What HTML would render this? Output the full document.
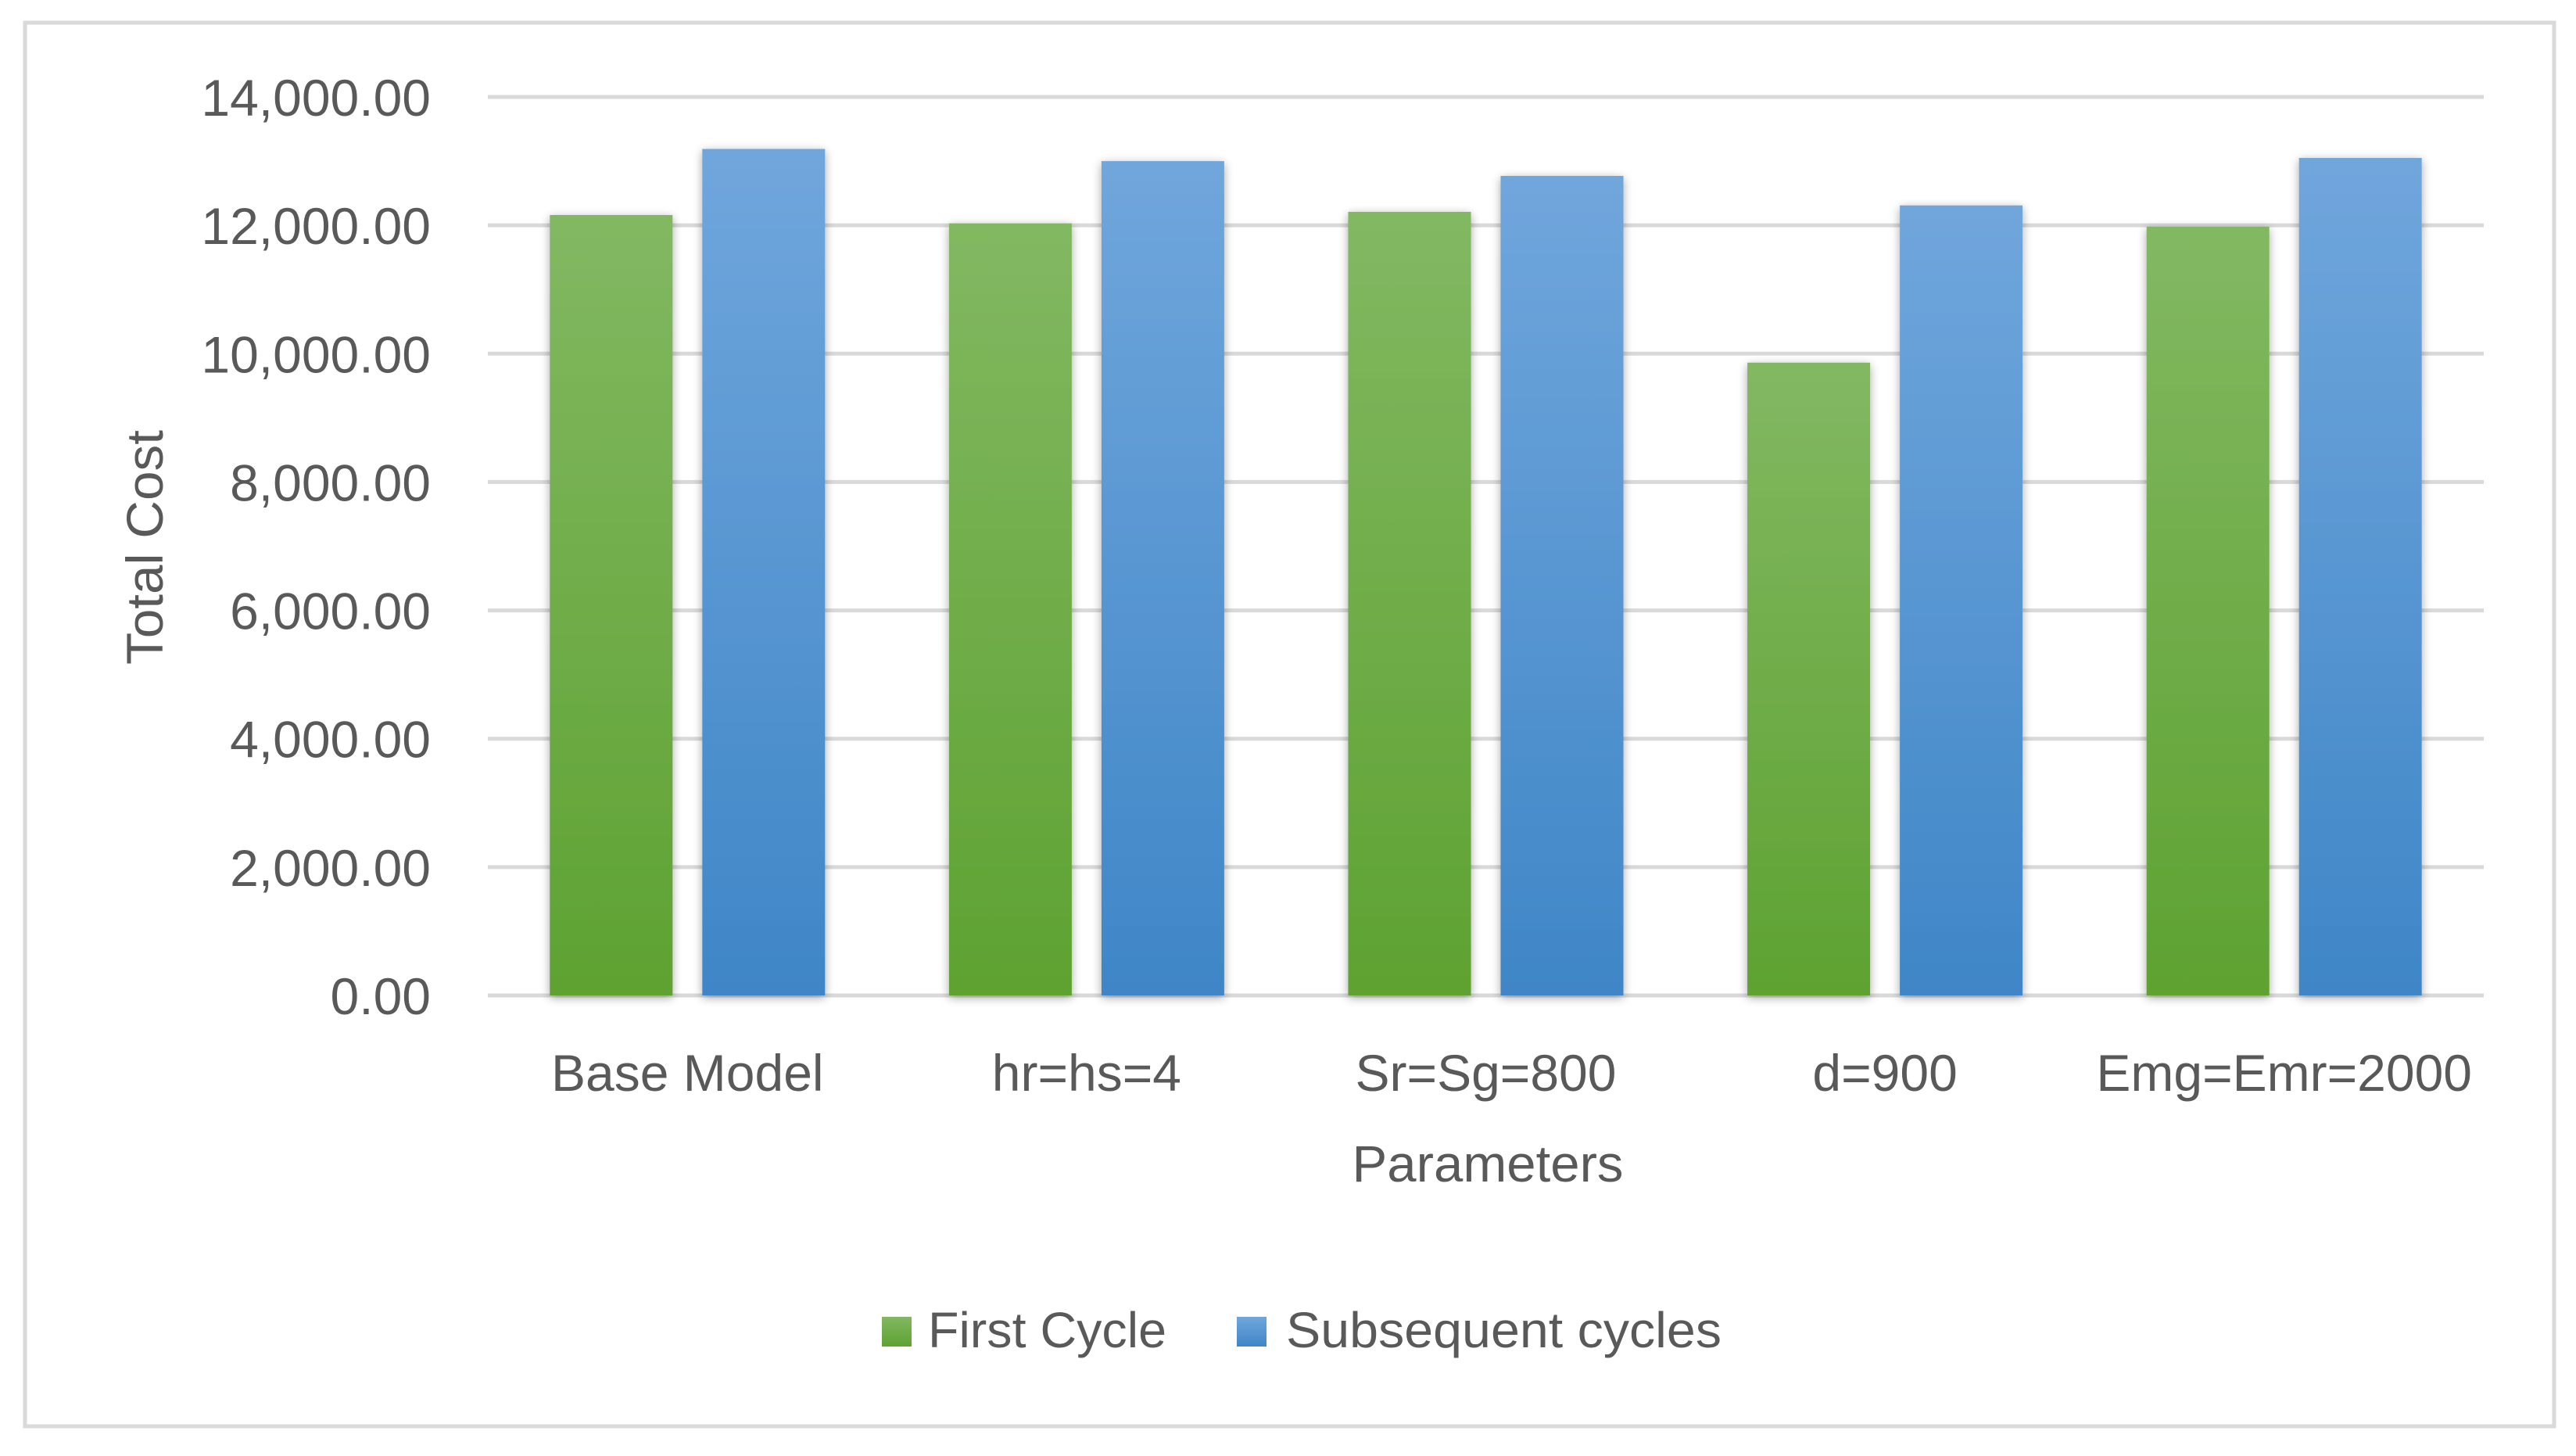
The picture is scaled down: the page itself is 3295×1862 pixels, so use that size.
<!DOCTYPE html>
<html><head><meta charset="utf-8"><style>
html,body{margin:0;padding:0;background:#fff}
svg{display:block}
text{font-family:"Liberation Sans",sans-serif;fill:#595959}
</style></head><body>
<svg id="chart" width="3295" height="1862" viewBox="0 0 3295 1862">
<defs>
<linearGradient id="gG" x1="0" y1="0" x2="0" y2="1"><stop offset="0" stop-color="#82b862"/><stop offset="1" stop-color="#5ea231"/></linearGradient>
<linearGradient id="gB" x1="0" y1="0" x2="0" y2="1"><stop offset="0" stop-color="#70a6dc"/><stop offset="1" stop-color="#3f86c7"/></linearGradient>
<filter id="sh" x="-20%" y="-5%" width="140%" height="110%"><feGaussianBlur in="SourceAlpha" stdDeviation="6"/><feOffset dx="0" dy="3"/><feComponentTransfer><feFuncA type="linear" slope="0.35"/></feComponentTransfer><feMerge><feMergeNode/><feMergeNode in="SourceGraphic"/></feMerge></filter>
</defs>
<rect x="32" y="29" width="3235" height="1795" fill="#fff" stroke="#d9d9d9" stroke-width="5"/>
<g id="grid"></g><g id="bars"></g><g id="xlabels"></g>
<text transform="translate(208,700) rotate(-90)" text-anchor="middle" font-size="66" textLength="300" lengthAdjust="spacingAndGlyphs">Total Cost</text>
<text x="1903" y="1511" text-anchor="middle" font-size="66" textLength="347" lengthAdjust="spacingAndGlyphs">Parameters</text>
<g>
<rect x="1128" y="1684" width="38" height="38" fill="url(#gG)"/>
<text x="1187" y="1723" font-size="64" textLength="305" lengthAdjust="spacingAndGlyphs">First Cycle</text>
<rect x="1582" y="1684" width="38" height="38" fill="url(#gB)"/>
<text x="1645" y="1723" font-size="64" textLength="557" lengthAdjust="spacingAndGlyphs">Subsequent cycles</text>
</g>
</svg>
<script>
const categories=["Base Model","hr=hs=4","Sr=Sg=800","d=900","Emg=Emr=2000"];
const firstCycle=[12160,12030,12210,9860,11980];
const subsequentCycles=[13190,13000,12770,12310,13050];
const yTicks=[0,2000,4000,6000,8000,10000,12000,14000];
const yTickLabels=["0.00","2,000.00","4,000.00","6,000.00","8,000.00","10,000.00","12,000.00","14,000.00"];
const NS="http://www.w3.org/2000/svg";
const X0=624,X1=3177,Y0=1273,Y1=124,YMAX=14000;
function y(v){return Y0-(v/YMAX)*(Y0-Y1);}
const band=(X1-X0)/categories.length;
function xc(i){return X0+band*(i+0.5);}
function mk(t,a,p){const e=document.createElementNS(NS,t);for(const k in a)e.setAttribute(k,a[k]);p.appendChild(e);return e;}
const grid=document.getElementById('grid');
yTicks.forEach((v,i)=>{
  const l=mk('line',{x1:X0,x2:X1,y1:y(v),y2:y(v),stroke:'#d9d9d9','stroke-width':5},grid);
  
  
  const t=mk('text',{x:551,y:y(v)+24,'text-anchor':'end','font-size':66},grid);
  
  
  t.textContent=yTickLabels[i];
});
const bars=document.getElementById('bars');
const bw=157,gap=38;
categories.forEach((c,i)=>{
  const cx=xc(i);
  const g=mk('rect',{x:cx-gap/2-bw,y:y(firstCycle[i]),width:bw,height:Y0-y(firstCycle[i]),fill:'url(#gG)',filter:'url(#sh)'},bars);
  
  
  const b=mk('rect',{x:cx+gap/2,y:y(subsequentCycles[i]),width:bw,height:Y0-y(subsequentCycles[i]),fill:'url(#gB)',filter:'url(#sh)'},bars);
  
  
  const t=mk('text',{x:cx,y:1395,'text-anchor':'middle','font-size':66},document.getElementById('xlabels'));
  
  
  t.textContent=c;
});
</script>
</body></html>
